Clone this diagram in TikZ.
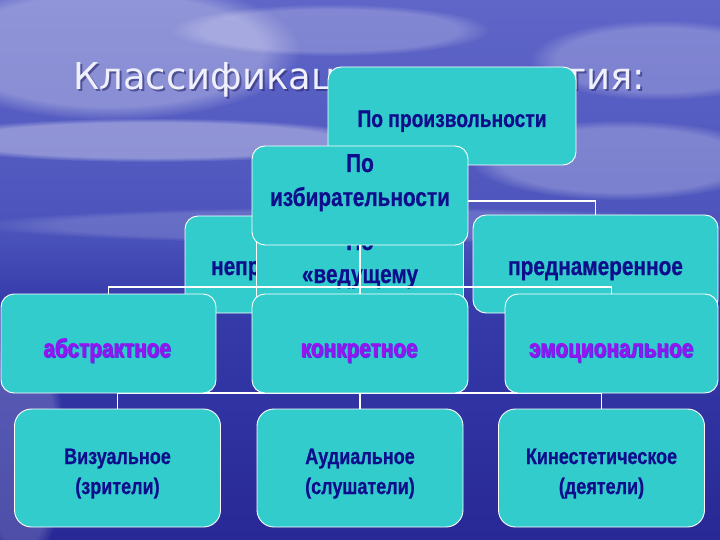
\documentclass[tikz,border=0pt]{standalone}
\usepackage{fontspec}
\setmainfont{DejaVu Sans}
\newfontfamily\titlefont{DejaVu Sans}
\newfontfamily\boxfont[FakeStretch=0.8,FakeBold=0.6]{Liberation Sans}
\usetikzlibrary{fadings}
\definecolor{turq}{RGB}{51,204,204}
\definecolor{navy}{RGB}{14,14,140}
\definecolor{violet2}{RGB}{150,20,240}
\definecolor{vshadow}{RGB}{60,60,230}
\definecolor{titlec}{RGB}{240,240,252}
\definecolor{titlesh}{RGB}{40,40,110}
\definecolor{skyA}{RGB}{96,102,200}
\definecolor{skyB}{RGB}{76,84,188}
\definecolor{seaA}{RGB}{54,60,170}
\definecolor{seaB}{RGB}{40,40,150}
\newcommand{\shadowed}[1]{\makebox[0pt][l]{\kern0.9pt\raisebox{-0.9pt}{\color{vshadow}#1}}#1}
\tikzset{
  box/.style={draw=white, line width=0.9pt, fill=turq, rounded corners=13pt, inner sep=0pt},
  bigbox/.style={box, rounded corners=17pt, minimum width=206pt, minimum height=118pt},
  rowbox/.style={box, minimum height=99pt},
  btext/.style={font=\boxfont\bfseries\fontsize{26}{34}\selectfont, text=navy, align=center, inner sep=0pt, anchor=base},
  atext/.style={btext, font=\boxfont\bfseries\fontsize{24}{30}\selectfont},
  stext/.style={btext, font=\boxfont\bfseries\fontsize{22.5}{30}\selectfont},
  vtext/.style={btext, text=violet2},
  link/.style={draw=white, line width=1.6pt},
  blob/.style={fill=white, path fading=circle with fuzzy edge 20 percent},
}
\begin{document}
\begin{tikzpicture}[x=1pt,y=-1pt]
\useasboundingbox (0,0) rectangle (720,540);
% background sky and sea
\shade[top color=skyA, bottom color=skyB] (0,0) rectangle (720,230);
\shade[top color=skyB, bottom color=seaA] (0,230) rectangle (720,300);
\shade[top color=seaA, bottom color=seaB] (0,300) rectangle (720,540);
\fill[blob, fill opacity=0.30] (110,50) ellipse [x radius=190, y radius=70];
\fill[blob, fill opacity=0.22] (330,30) ellipse [x radius=160, y radius=26];
\fill[blob, fill opacity=0.22] (660,60) ellipse [x radius=130, y radius=40];
\fill[blob, fill opacity=0.35] (150,140) ellipse [x radius=230, y radius=22];
\fill[blob, fill opacity=0.25] (620,160) ellipse [x radius=150, y radius=40];
\fill[blob, fill opacity=0.18] (20,450) ellipse [x radius=45, y radius=120];
\fill[blob, fill opacity=0.15] (360,225) ellipse [x radius=380, y radius=18];
% title
\node[anchor=base west, font=\titlefont\fontsize{37}{40}\selectfont, text=titlesh, opacity=0.6, inner sep=0pt] (titlesh) at (75,92) {Классификация\hspace{23pt}восприятия:};
\node[anchor=base west, font=\titlefont\fontsize{37}{40}\selectfont, text=titlec, inner sep=0pt] (title) at (73,90) {Классификация\hspace{23pt}восприятия:};
% first level
\node[box, minimum width=248pt, minimum height=98pt] (A) at (452,116) {};
\node[atext] (At) at (452,127) {По произвольности};
\node[box, minimum width=225pt, minimum height=97pt] (C) at (297.5,264.5) {};
\node[btext] (Ct) at (297.5,275) {непроизвольное};
\node[box, minimum width=245pt, minimum height=98pt] (E) at (595.5,264) {};
\node[btext] (Et) at (595.5,275) {преднамеренное};
\node[box, minimum width=207pt, minimum height=97pt] (D) at (360,264.5) {};
\node[btext, font=\boxfont\bfseries\fontsize{26}{33}\selectfont] (Dt) at (360,283) {По\\«ведущему};
% bottom row
\node[bigbox] (R3a) at (117.5,468) {};
\node[stext] (R3at) at (117.5,494) {Визуальное\\(зрители)};
\node[bigbox] (R3b) at (360,468) {};
\node[stext] (R3bt) at (360,494) {Аудиальное\\(слушатели)};
\node[bigbox] (R3c) at (601.5,468) {};
\node[stext] (R3ct) at (601.5,494) {Кинестетическое\\(деятели)};
% links from A and D
\coordinate (barA) at (452,201);
\draw[link] (A.south) -- (barA);
\draw[link] (C.north) |- (barA) -| (E.north);
\coordinate (barD) at (360,393);
\draw[link] (D.south) -- (barD);
\draw[link] (R3a.north) |- (barD) -| (R3c.north);
\draw[link] (barD) -- (R3b.north);
% B
\node[box, minimum width=216pt, minimum height=99pt] (B) at (360,195.5) {};
\node[btext] (Bt) at (360,206) {По\\избирательности};
% second row
\node[rowbox, minimum width=215pt] (R2a) at (108.5,343.5) {};
\node[vtext] (R2at) at (107,357) {\shadowed{абстрактное}};
\node[rowbox, minimum width=216pt] (R2b) at (360,343.5) {};
\node[vtext] (R2bt) at (359,357) {\shadowed{конкретное}};
\node[rowbox, minimum width=213pt] (R2c) at (611.5,343.5) {};
\node[vtext] (R2ct) at (611,357) {\shadowed{эмоциональное}};
% links from B
\coordinate (barB) at (360,287);
\draw[link] (B.south) -- (barB);
\draw[link] (R2a.north) |- (barB) -| (R2c.north);
\draw[link] (barB) -- (R2b.north);
\end{tikzpicture}
\end{document}
